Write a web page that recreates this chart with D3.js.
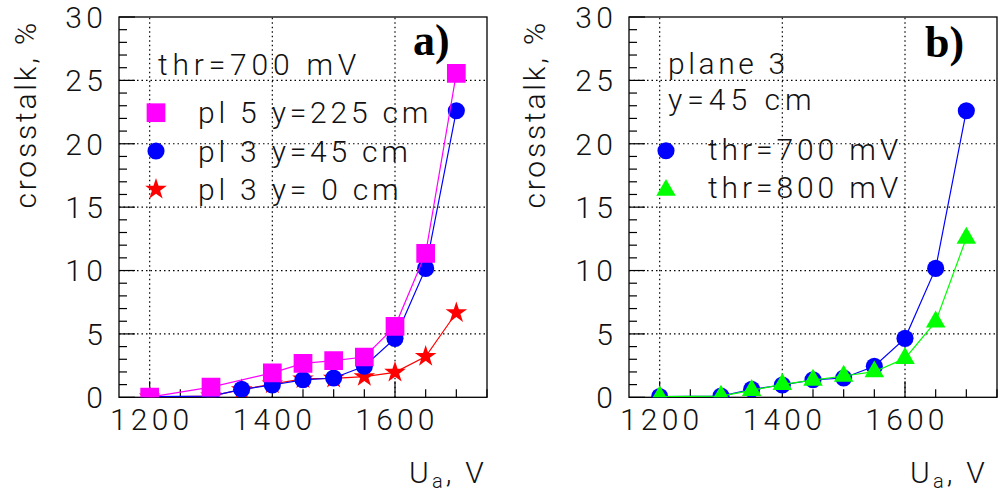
<!DOCTYPE html>
<html><head><meta charset="utf-8">
<script src="https://cdn.jsdelivr.net/npm/d3@7/dist/d3.min.js"></script>
<style>
body{margin:0;background:#fff}
text{font-family:'Roboto',sans-serif;font-weight:300;fill:#111}
</style>
</head><body>
<svg id="c" width="1002" height="496"></svg>
<script>
// ---- data ----
const voltages = [1200,1300,1350,1400,1450,1500,1550,1600,1650,1700];
const magentaVolt = [1200,1300,1400,1450,1500,1550,1600,1650,1700];
const pl5y225 = [0.02,0.8,1.93,2.68,2.89,3.18,5.6,11.36,25.55];
const pl3y45 = [0.05,0.1,0.63,0.97,1.38,1.52,2.45,4.65,10.17,22.6];
const pl3y0 = [0.02,0.1,0.6,1.05,1.45,1.5,1.63,1.97,3.22,6.67];
const thr800 = [0.05,0.1,0.55,1.02,1.36,1.68,2.02,3.07,5.96,12.56];
const xTickLabels = [1200,1400,1600];
const yTickLabels = [0,5,10,15,20,25,30];
const legendA = ["pl 5 y=225 cm","pl 3 y=45 cm","pl 3 y= 0 cm"];
const legendB = ["thr=700 mV","thr=800 mV"];

const svg = d3.select("#c");
const frameTop = 17, frameBottom = 397.3;
const LS = "4.2px";
const FS = 30;

const panels = [
  {id:"a", left:119, right:487, label:"a)", labelX:413, labelY:55, titleX:36, xTitleRight:487,
   series:[
     {x:magentaVolt, y:pl5y225, color:"#ff00ff", shape:"square"},
     {x:voltages, y:pl3y45, color:"#0000ff", shape:"circle"},
     {x:voltages, y:pl3y0, color:"#ff0000", shape:"star"}
   ],
   drawOrder:[2,1,0]},
  {id:"b", left:629, right:997, label:"b)", labelX:925, labelY:57, titleX:545, xTitleRight:988,
   series:[
     {x:voltages, y:pl3y45, color:"#0000ff", shape:"circle"},
     {x:voltages, y:thr800, color:"#00ff00", shape:"triangle"}
   ],
   drawOrder:[0,1]}
];

function sym(shape){
  const m = {square:[d3.symbolSquare,350], circle:[d3.symbolCircle,230], star:[d3.symbolStar,145], triangle:[d3.symbolTriangle,165]};
  return d3.symbol().type(m[shape][0]).size(m[shape][1])();
}

panels.forEach(p=>{
  const x = d3.scaleLinear().domain([1150,1750]).range([p.left,p.right]);
  const y = d3.scaleLinear().domain([0,30]).range([frameBottom,frameTop]);
  const g = svg.append("g");
  const clipId = "clip"+p.id;
  g.append("clipPath").attr("id",clipId).append("rect")
    .attr("x",p.left).attr("y",frameTop).attr("width",p.right-p.left).attr("height",frameBottom-frameTop);

  // grid
  g.selectAll(".gx").data(xTickLabels).join("line")
    .attr("x1",d=>x(d)).attr("x2",d=>x(d)).attr("y1",frameBottom).attr("y2",frameTop)
    .attr("stroke","#000").attr("stroke-width",1.2).attr("stroke-dasharray","1.5,3");
  g.selectAll(".gy").data(yTickLabels.filter(v=>v>0&&v<30)).join("line")
    .attr("y1",d=>y(d)).attr("y2",d=>y(d)).attr("x1",p.left).attr("x2",p.right)
    .attr("stroke","#000").attr("stroke-width",1.2).attr("stroke-dasharray","1.5,3");

  // axes ticks (inside)
  const yMinor = d3.range(0,31,1);
  g.selectAll(".ty").data(yMinor).join("line")
    .attr("y1",d=>y(d)).attr("y2",d=>y(d)).attr("x1",p.left)
    .attr("x2",d=>p.left+(d%5===0?16:8)).attr("stroke","#000").attr("stroke-width",1.2);
  const xMinor = d3.range(1200,1751,50);
  g.selectAll(".tx").data(xMinor).join("line")
    .attr("x1",d=>x(d)).attr("x2",d=>x(d)).attr("y1",frameBottom)
    .attr("y2",d=>frameBottom-(d%200===0?16:8)).attr("stroke","#000").attr("stroke-width",1.2);

  // frame
  g.append("rect").attr("x",p.left).attr("y",frameTop).attr("width",p.right-p.left).attr("height",frameBottom-frameTop)
    .attr("fill","none").attr("stroke","#000").attr("stroke-width",1.3);

  // tick labels
  g.selectAll(".ly").data(yTickLabels).join("text")
    .attr("x",p.left-12).attr("y",d=>y(d)+10.8).attr("text-anchor","end")
    .attr("font-size",FS).style("letter-spacing",LS).text(d=>d);
  g.selectAll(".lx").data(xTickLabels).join("text")
    .attr("x",d=>x(d)+2).attr("y",430).attr("text-anchor","middle")
    .attr("font-size",FS).style("letter-spacing",LS).text(d=>d);

  // axis titles
  g.append("text").attr("transform",`translate(${p.titleX},20) rotate(-90)`)
    .attr("text-anchor","end").attr("font-size",FS).style("letter-spacing","2.8px").text("crosstalk, %");
  const xt = g.append("text").attr("x",p.xTitleRight).attr("y",483).attr("text-anchor","end")
    .attr("font-size",FS).style("letter-spacing","3.2px");
  xt.append("tspan").text("U");
  xt.append("tspan").attr("font-size",20).attr("dy",5).text("a");
  xt.append("tspan").attr("dy",-5).text(", V");

  // data
  const dg = g.append("g").attr("clip-path",`url(#${clipId})`);
  p.drawOrder.forEach(i=>{
    const s = p.series[i];
    const pts = s.x.map((v,k)=>[v,s.y[k]]);
    dg.append("path").datum(pts)
      .attr("d",d3.line().x(d=>x(d[0])).y(d=>y(d[1])))
      .attr("fill","none").attr("stroke",s.color).attr("stroke-width",1.2);
    dg.selectAll(null).data(pts).join("path")
      .attr("transform",d=>`translate(${x(d[0])},${y(d[1])})`)
      .attr("d",sym(s.shape)).attr("fill",s.color);
  });

  // panel label
  g.append("text").attr("x",p.labelX).attr("y",p.labelY)
    .style("font-family","'Liberation Serif',serif").style("font-weight","bold").style("fill","#000")
    .attr("font-size",44).text(p.label);
});

// legend a
const la = svg.append("g");
la.append("text").attr("x",158).attr("y",75).attr("font-size",FS).style("letter-spacing","4.8px").text("thr=700 mV");
const pa = panels[0];
legendA.forEach((t,i)=>{
  const yy = 112.7 + i*38.3;
  la.append("path").attr("transform",`translate(156,${yy})`).attr("d",sym(pa.series[i].shape)).attr("fill",pa.series[i].color);
  la.append("text").attr("x",198).attr("y",yy+10.5).attr("font-size",FS).style("letter-spacing","3.8px").text(t);
});
// legend b
const lb = svg.append("g");
lb.append("text").attr("x",668).attr("y",74).attr("font-size",FS).style("letter-spacing","3.6px").text("plane 3");
lb.append("text").attr("x",668).attr("y",110).attr("font-size",FS).style("letter-spacing","5px").text("y=45 cm");
const pb = panels[1];
legendB.forEach((t,i)=>{
  const yy = 150.7 + i*38.5;
  lb.append("path").attr("transform",`translate(666,${yy + (i===1?1:0)})`).attr("d",sym(pb.series[i].shape)).attr("fill",pb.series[i].color);
  lb.append("text").attr("x",708).attr("y",yy+9).attr("font-size",FS).style("letter-spacing","3.9px").text(t);
});
</script>
</body></html>
